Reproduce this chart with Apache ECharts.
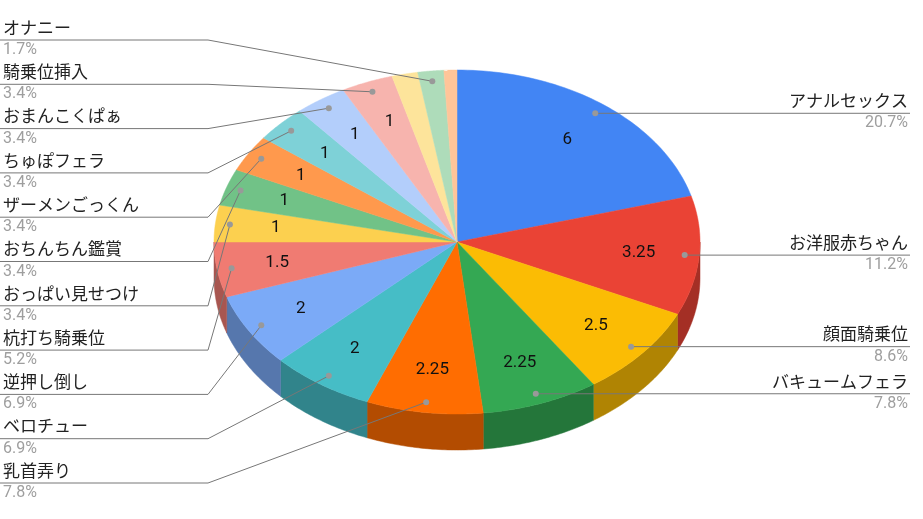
<!DOCTYPE html>
<html><head><meta charset="utf-8">
<script src="https://cdn.jsdelivr.net/npm/echarts@6/dist/echarts.min.js"></script>
<style>html,body{margin:0;background:#fff}#c{width:923px;height:519px}</style>
</head><body><div id="c"></div>
<script>
var names = ['アナルセックス','お洋服赤ちゃん','顔面騎乗位','バキュームフェラ','乳首弄り','ベロチュー','逆押し倒し','杭打ち騎乗位','おっぱい見せつけ','おちんちん鑑賞','ザーメンごっくん','ちゅぽフェラ','おまんこくぱぁ','騎乗位挿入','','オナニー',''];
var values = [6,3.25,2.5,2.25,2.25,2,2,1.5,1,1,1,1,1,1,0.5,0.5,0.25];
var colors = ['#4285F4','#EA4335','#FBBC04','#34A853','#FF6D01','#46BDC6','#7BAAF7','#F07B72','#FCD04F','#71C287','#FF994D','#7ED1D7','#B3CEFB','#F7B4AE','#FDE49B','#AEDCBA','#FFC599'];

var CX=457, CY=242, RX=243, RY=172, D=36;
var total = values.reduce(function(a,b){return a+b;},0);
var starts=[], acc=0;
values.forEach(function(v){starts.push(acc/total*360); acc+=v;});
function pt(deg,f,dy){var r=deg*Math.PI/180;return [CX+RX*f*Math.sin(r), CY-RY*f*Math.cos(r)+(dy||0)];}
function dark(hex){var n=parseInt(hex.slice(1),16);var r=(n>>16)&255,g=(n>>8)&255,b=n&255;return 'rgb('+Math.round(r*.7)+','+Math.round(g*.7)+','+Math.round(b*.7)+')';}
var idx = values.map(function(v,i){return i;});

function pieItem(params){
  var i=params.dataIndex, a0=starts[i], a1=a0+values[i]/total*360, ch=[];
  var s0=Math.max(a0,90), s1=Math.min(a1,270);
  if(s1>s0){
    var top=[],bot=[];
    for(var k=0;k<=40;k++){var a=s0+(s1-s0)*k/40;top.push(pt(a,1));bot.push(pt(a,1,D));}
    ch.push({type:'polygon',shape:{points:top.concat(bot.reverse())},style:{fill:dark(colors[i]),stroke:dark(colors[i]),lineWidth:0.5}});
  }
  var pts=[[CX,CY]];
  for(var k=0;k<=60;k++){pts.push(pt(a0+(a1-a0)*k/60,1));}
  ch.push({type:'polygon',shape:{points:pts},style:{fill:colors[i],stroke:colors[i],lineWidth:0.5}});
  if(values[i]>=1){var m=pt((a0+a1)/2,0.75);
    ch.push({type:'text',style:{x:m[0],y:m[1],text:String(values[i]),fill:'#111',font:'17px Roboto, "Noto Sans CJK JP"',align:'center',verticalAlign:'middle'}});}
  return {type:'group',children:ch};
}
var leftList = idx.filter(function(i){return names[i] && (starts[i]+values[i]/total*180)>180;}).reverse();
function labelItem(params){
  var i=params.dataIndex; if(!names[i]) return null;
  var mid=starts[i]+values[i]/total*180, d=pt(mid,0.94), ch=[];
  var pct=(values[i]/total*100).toFixed(1)+'%';
  var lc='#777', nf='17px Roboto, "Noto Sans CJK JP"', pf='16px Roboto, "Noto Sans CJK JP"';
  if(mid<180){
    var ly=d[1];
    ch.push({type:'polyline',shape:{points:[d,[910,ly]]},style:{stroke:lc,fill:null,lineWidth:1}});
    ch.push({type:'text',style:{x:908,y:ly-2,text:names[i],fill:'#222',font:nf,align:'right',verticalAlign:'bottom'}});
    ch.push({type:'text',style:{x:908,y:ly+2,text:pct,fill:'#9e9e9e',font:pf,align:'right',verticalAlign:'top'}});
  } else {
    var j=leftList.indexOf(i), ly=40+j*44.3;
    ch.push({type:'polyline',shape:{points:[d,[208,ly],[0,ly]]},style:{stroke:lc,fill:null,lineWidth:1}});
    ch.push({type:'text',style:{x:3,y:ly-2,text:names[i],fill:'#222',font:nf,align:'left',verticalAlign:'bottom'}});
    ch.push({type:'text',style:{x:3,y:ly+2,text:pct,fill:'#9e9e9e',font:pf,align:'left',verticalAlign:'top'}});
  }
  ch.push({type:'circle',shape:{cx:d[0],cy:d[1],r:3},style:{fill:'#999'}});
  return {type:'group',children:ch};
}
var chart=echarts.init(document.getElementById('c'));
chart.setOption({animation:false,series:[
  {type:'custom',coordinateSystem:'none',data:idx,renderItem:pieItem,z:1},
  {type:'custom',coordinateSystem:'none',data:idx,renderItem:labelItem,z:2}
]});
</script></body></html>
